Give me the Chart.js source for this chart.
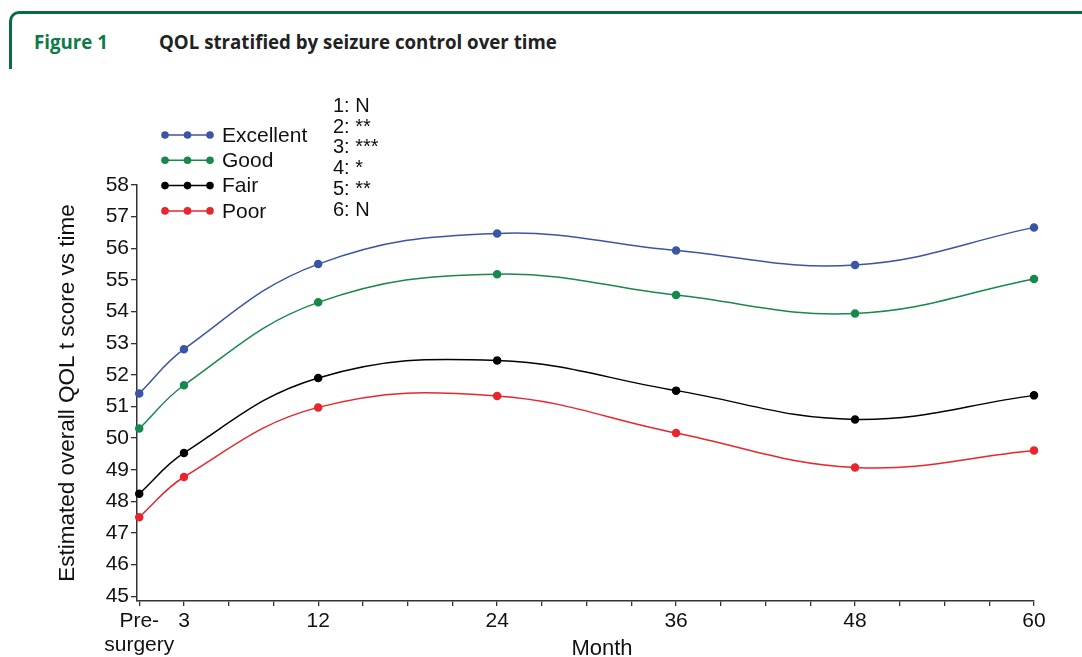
<!DOCTYPE html>
<html>
<head>
<meta charset="utf-8">
<script src="https://cdn.jsdelivr.net/npm/chart.js@4.4.1/dist/chart.umd.min.js"></script>
<style>
  html, body { margin: 0; padding: 0; background: #fff; }
  body { width: 1082px; height: 657px; position: relative; overflow: hidden; font-family: "Liberation Sans", Arial, sans-serif; }
  #frame { position: absolute; left: 9px; top: 11px; width: 1100px; height: 55px;
           border-top: 3px solid #0b6b40; border-left: 3px solid #0b6b40; border-top-left-radius: 10px; }
  .head { position: absolute; top: 31px; font-family: "Open Sans", Lato, sans-serif; font-weight: 700; font-size: 18.7px; line-height: 22px; }
  #figno { left: 34px; color: #0e7a47; }
  #figtitle { left: 159px; color: #222; }
  #sig { position: absolute; left: 333px; top: 95px; font-size: 20px; line-height: 20.7px; color: #111; }
  #wrap { position: absolute; left: 0; top: 0; width: 1082px; height: 657px; }
</style>
</head>
<body>
<div id="frame"></div>
<div class="head" id="figno">Figure 1</div>
<div class="head" id="figtitle">QOL stratified by seizure control over time</div>
<div id="wrap"><canvas id="qolChart" width="1082" height="657"></canvas></div>
<div id="sig"></div>
<script>
// months after surgery (0 = pre-surgery)
const months = [0, 3, 12, 24, 36, 48, 60];
const excellent = [51.41, 52.81, 55.50, 56.47, 55.93, 55.47, 56.66];
const good = [50.30, 51.67, 54.29, 55.18, 54.52, 53.94, 55.03];
const fair = [48.24, 49.53, 51.90, 52.45, 51.50, 50.59, 51.35];
const poor = [47.50, 48.77, 50.97, 51.33, 50.16, 49.07, 49.61];

const groupNames = ['Excellent', 'Good', 'Fair', 'Poor'];
const groupColors = ['#3b55a6', '#17894a', '#000000', '#e8262b'];

const tickMonths = [0, 3, 12, 24, 36, 48, 60];
const tickText = [['Pre-', 'surgery'], '3', '12', '24', '36', '48', '60'];
const minorStep = 3;
const yTicks = [45, 46, 47, 48, 49, 50, 51, 52, 53, 54, 55, 56, 57, 58];

// significance per time point
const sigMarks = ['N', '**', '***', '*', '**', 'N'];

document.getElementById('sig').innerHTML =
    sigMarks.map((m, i) => `${i + 1}: ${m}`).join('<br>');

const series = [excellent, good, fair, poor];

const datasets = series.map((vals, i) => ({
    label: groupNames[i],
    data: vals.map((v, j) => ({ x: months[j], y: v })),
    borderColor: groupColors[i],
    backgroundColor: groupColors[i],
    borderWidth: 1.5,
    pointRadius: 3.5,
    pointHoverRadius: 3.5,
    tension: 0.4,
    clip: false
}));

// legend with three dots on a line, like the original figure
const dotLegend = {
    id: 'dotLegend',
    afterDraw(chart) {
        const ctx = chart.ctx;
        chart.data.datasets.forEach((ds, i) => {
            const y = 135 + i * 25.3;
            ctx.save();
            ctx.strokeStyle = ds.borderColor;
            ctx.lineWidth = 1.5;
            ctx.beginPath();
            ctx.moveTo(165, y);
            ctx.lineTo(210, y);
            ctx.stroke();
            ctx.fillStyle = ds.borderColor;
            [165, 187.5, 210].forEach(x => {
                ctx.beginPath();
                ctx.arc(x, y, 3.8, 0, Math.PI * 2);
                ctx.fill();
            });
            ctx.fillStyle = '#111';
            ctx.font = '21px "Liberation Sans", Arial, sans-serif';
            ctx.textBaseline = 'middle';
            ctx.fillText(ds.label, 222, y + 1);
            ctx.restore();
        });
    }
};

const axisColor = '#333';
const baseFont = '"Liberation Sans", Arial, sans-serif';

new Chart(document.getElementById('qolChart'), {
    type: 'line',
    data: { datasets: datasets },
    options: {
        responsive: false,
        animation: false,
        events: [],
        layout: { padding: { left: 0, top: 185, right: 48, bottom: 0 } },
        plugins: {
            legend: { display: false },
            tooltip: { enabled: false }
        },
        scales: {
            x: {
                type: 'linear',
                min: -0.15,
                max: 60,
                afterFit: scale => { scale.height = 56; },
                afterBuildTicks: scale => {
                    const t = [];
                    for (let m = 0; m <= 60; m += minorStep) t.push({ value: m });
                    scale.ticks = t;
                },
                ticks: {
                    autoSkip: false,
                    maxRotation: 0,
                    padding: 3,
                    color: '#111',
                    font: { family: baseFont, size: 21, lineHeight: 1.15 },
                    callback: v => {
                        const i = tickMonths.indexOf(v);
                        return i >= 0 ? tickText[i] : '';
                    }
                },
                grid: { drawOnChartArea: false, drawTicks: true, tickLength: 5, color: axisColor, tickColor: axisColor, lineWidth: 1.3 },
                border: { display: true, color: axisColor, width: 1.5 },
                title: {
                    display: true,
                    text: '\u2003\u2002Month',
                    color: '#111',
                    font: { family: baseFont, size: 22, lineHeight: 1 },
                    padding: { top: 0, bottom: -3 }
                }
            },
            y: {
                min: 44.85,
                max: 58,
                afterFit: scale => { scale.width = 137; },
                afterBuildTicks: scale => {
                    scale.ticks = yTicks.map(v => ({ value: v }));
                },
                ticks: {
                    padding: 2,
                    color: '#111',
                    font: { family: baseFont, size: 21 }
                },
                grid: { drawOnChartArea: false, drawTicks: true, tickLength: 6, color: axisColor, tickColor: axisColor, lineWidth: 1.3 },
                border: { display: true, color: axisColor, width: 1.5 },
                title: {
                    display: true,
                    text: 'Estimated overall QOL t score vs time',
                    color: '#111',
                    font: { family: baseFont, size: 22.5, lineHeight: 1 },
                    padding: { top: 57, bottom: 0 }
                }
            }
        }
    },
    plugins: [dotLegend]
});
</script>
</body>
</html>
